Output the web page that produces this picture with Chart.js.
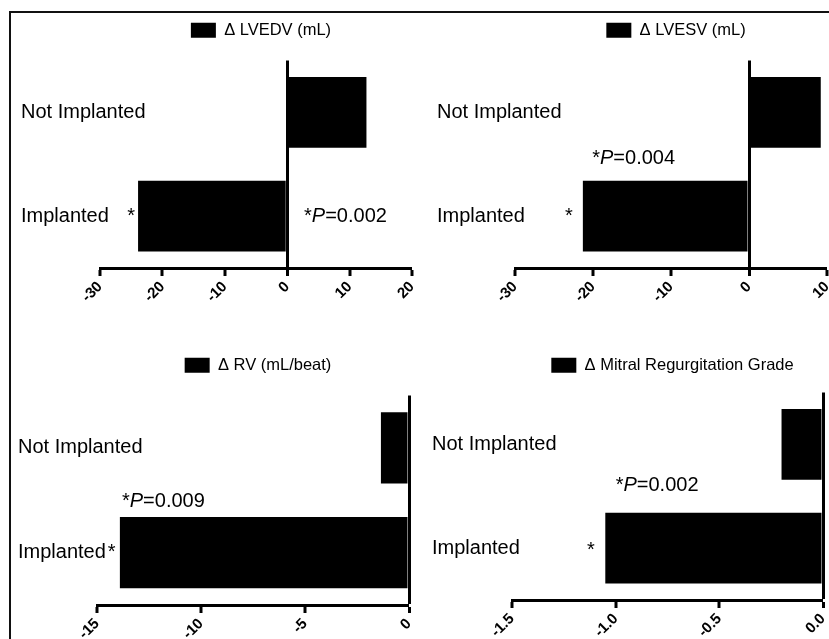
<!DOCTYPE html>
<html>
<head>
<meta charset="utf-8">
<script src="https://cdn.jsdelivr.net/npm/chart.js@4.4.1/dist/chart.umd.min.js"></script>
<style>
  html, body { margin: 0; padding: 0; background: #fff; overflow: hidden; }
  body { width: 829px; height: 639px; position: relative; }
  .frame { position: absolute; left: 9px; top: 11px; width: 840px; height: 660px; border-top: 2px solid #111; border-left: 2px solid #111; }
  canvas { position: absolute; }
</style>
</head>
<body>
<div class="frame"></div>
<canvas id="c1"></canvas>
<canvas id="c2"></canvas>
<canvas id="c3"></canvas>
<canvas id="c4"></canvas>
<script>
const groups = ["Not Implanted", "Implanted"];

const lvedvLabel = "\u0394 LVEDV (mL)";
const lvedvValues = [12.7, -23.9];
const lvedvTicks = [-30, -20, -10, 0, 10, 20];

const lvesvLabel = "\u0394 LVESV (mL)";
const lvesvValues = [9.2, -21.3];
const lvesvTicks = [-30, -20, -10, 0, 10];

const rvLabel = "\u0394 RV (mL/beat)";
const rvValues = [-1.35, -13.9];
const rvTicks = [-15, -10, -5, 0];

const mrLabel = "\u0394 Mitral Regurgitation Grade";
const mrValues = [-0.2, -1.05];
const mrTicks = [-1.5, -1.0, -0.5, 0.0];

// significance marks: lone star, or "*P=..." text
const lvedvNotes = [{ x: -25, y: 1 }, { x: 2.7, y: 1, p: "0.002" }];
const lvesvNotes = [{ x: -23.1, y: 1 }, { x: -20.1, y: 0.44, p: "0.004" }];
const rvNotes = [{ x: -14.3, y: 1 }, { x: -13.8, y: 0.51, p: "0.009" }];
const mrNotes = [{ x: -1.12, y: 1.02 }, { x: -1.0, y: 0.4, p: "0.002" }];

const FAMILY = "'Liberation Sans', Arial, Helvetica, sans-serif";

const panels = [
  { id: "c1", label: lvedvLabel, values: lvedvValues, ticks: lvedvTicks, decimals: 0, notes: lvedvNotes,
    box: { left: 12, top: 12, width: 404, height: 298 }, pad: { left: 9, right: 4, top: 12 },
    yWidth: 79, xHeight: 42, lift: 12 },
  { id: "c2", label: lvesvLabel, values: lvesvValues, ticks: lvesvTicks, decimals: 0, notes: lvesvNotes,
    box: { left: 425, top: 12, width: 404, height: 298 }, pad: { left: 12, right: 2, top: 12 },
    yWidth: 78, xHeight: 42, lift: 12 },
  { id: "c3", label: rvLabel, values: rvValues, ticks: rvTicks, decimals: 0, notes: rvNotes,
    box: { left: 10, top: 347, width: 403, height: 313 }, pad: { left: 8, right: 4, top: 12 },
    yWidth: 79, xHeight: 55, lift: 12 },
  { id: "c4", label: mrLabel, values: mrValues, ticks: mrTicks, decimals: 1, notes: mrNotes,
    box: { left: 424, top: 347, width: 403, height: 313 }, pad: { left: 8, right: 4, top: 9 },
    yWidth: 80, xHeight: 60, lift: 9 },
];

const legendNudge = {
  id: "legendNudge",
  afterLayout(chart, args, opts) {
    const lg = chart.legend;
    if (!lg) {
      return;
    }
    lg.left += opts.dx;
    lg.right += opts.dx;
    lg.top -= opts.dy;
    lg.bottom -= opts.dy;
  },
};

const noteText = {
  id: "noteText",
  afterDatasetsDraw(chart, args, opts) {
    const { ctx } = chart;
    const x = chart.scales.x;
    const y = chart.scales.y;
    ctx.save();
    ctx.fillStyle = "#000";
    ctx.textBaseline = "middle";
    (opts.notes || []).forEach((note) => {
      const px = x.getPixelForValue(note.x);
      const py = y.getPixelForValue(note.y);
      if (!note.p) {
        ctx.font = "20px " + FAMILY;
        ctx.textAlign = "center";
        ctx.fillText("*", px, py);
        return;
      }
      ctx.textAlign = "left";
      let cx = px;
      [["*", false], ["P", true], ["=" + note.p, false]].forEach(([s, italic]) => {
        ctx.font = (italic ? "italic " : "") + "20px " + FAMILY;
        ctx.fillText(s, cx, py);
        cx += ctx.measureText(s).width;
      });
    });
    ctx.restore();
  },
};

Chart.defaults.font.family = FAMILY;
Chart.defaults.color = "#000";

function buildPanel(p) {
  const canvas = document.getElementById(p.id);
  canvas.width = p.box.width;
  canvas.height = p.box.height;
  canvas.style.left = p.box.left + "px";
  canvas.style.top = p.box.top + "px";

  return new Chart(canvas, {
    type: "bar",
    data: {
      labels: groups,
      datasets: [
        {
          label: p.label,
          data: p.values,
          backgroundColor: "#000",
          borderWidth: 0,
          barPercentage: 0.68,
          categoryPercentage: 1,
        },
      ],
    },
    plugins: [legendNudge, noteText],
    options: {
      responsive: false,
      animation: false,
      indexAxis: "y",
      layout: {
        padding: { left: p.pad.left, right: p.pad.right, top: p.pad.top, bottom: 0 },
      },
      plugins: {
        legend: {
          display: true,
          position: "top",
          fullSize: false,
          labels: {
            boxWidth: 25,
            boxHeight: 15,
            padding: 10,
            color: "#000",
            font: { size: 16.5 },
          },
        },
        tooltip: { enabled: false },
        legendNudge: { dx: 5, dy: p.lift },
        noteText: { notes: p.notes },
      },
      scales: {
        x: {
          type: "linear",
          min: p.ticks[0],
          max: p.ticks[p.ticks.length - 1],
          afterBuildTicks: (scale) => {
            scale.ticks = p.ticks.map((v) => ({ value: v }));
          },
          afterFit: (scale) => {
            scale.height = p.xHeight;
            scale.paddingLeft = 0;
            scale.paddingRight = 0;
          },
          border: { display: true, color: "#000", width: 3 },
          grid: {
            color: (c) => (c.tick && c.tick.value === 0 ? "#000" : "rgba(0,0,0,0)"),
            lineWidth: (c) => (c.tick && c.tick.value === 0 ? 3 : 0),
            tickColor: "#000",
            tickWidth: 3,
            tickLength: 8,
          },
          ticks: {
            color: "#000",
            font: { size: 15, weight: "bold" },
            minRotation: 45,
            maxRotation: 45,
            padding: 2,
            autoSkip: false,
            callback: (v) => Number(v).toFixed(p.decimals),
          },
        },
        y: {
          afterFit: (scale) => {
            scale.width = p.yWidth;
            scale.paddingTop = 0;
            scale.paddingBottom = 0;
          },
          border: { display: false },
          grid: { display: false },
          ticks: {
            color: "#000",
            font: { size: 20 },
            mirror: true,
            crossAlign: "near",
            padding: -p.yWidth,
            autoSkip: false,
          },
        },
      },
    },
  });
}

panels.forEach(buildPanel);
</script>
</body>
</html>
